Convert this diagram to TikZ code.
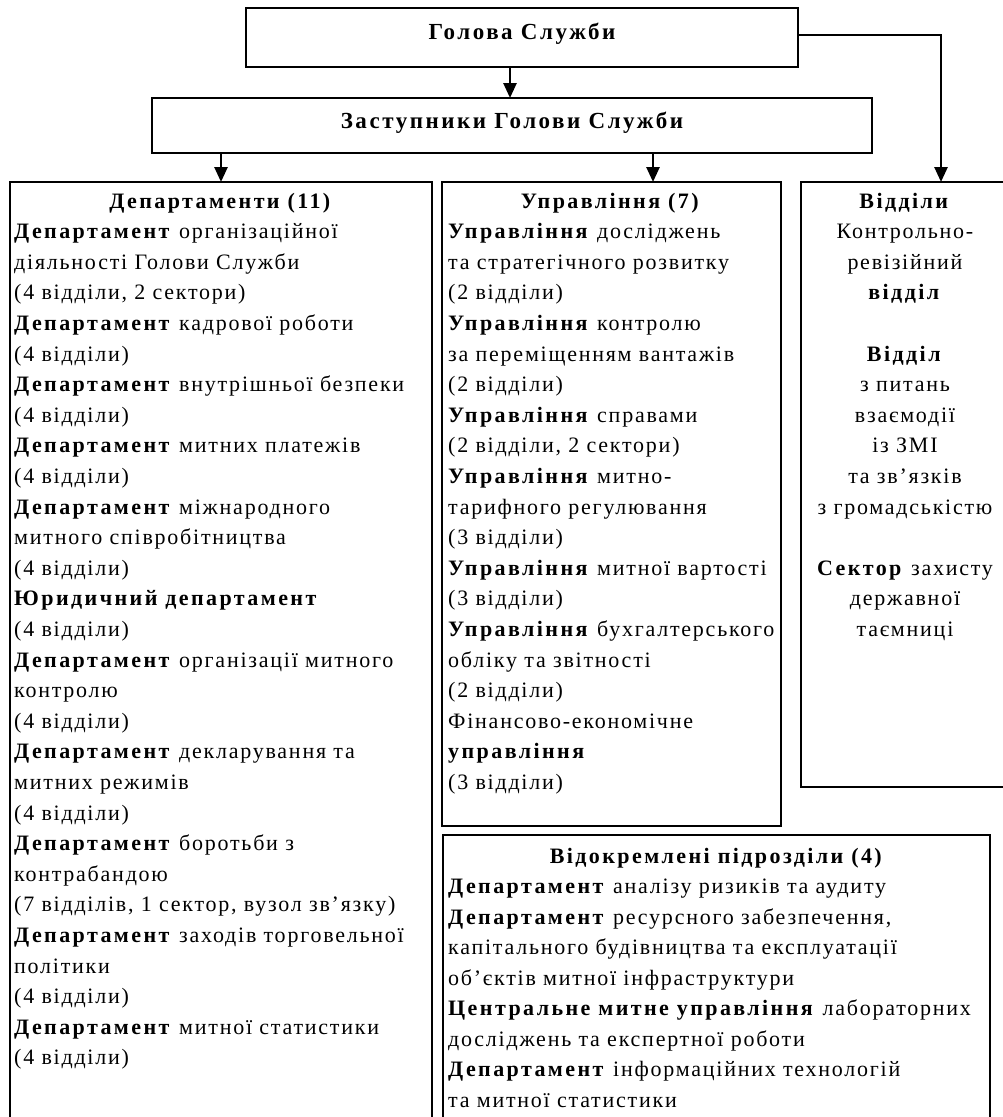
\documentclass[tikz,border=0pt]{standalone}
\usepackage{fontspec}
\setmainfont{Liberation Serif}[LetterSpace=8,BoldFeatures={LetterSpace=11}]
\usetikzlibrary{arrows.meta}
\begin{document}
\begin{tikzpicture}[x=1pt,y=-1pt,
  box/.style={draw,line width=2.6pt,rectangle,inner sep=0pt,outer sep=0pt,anchor=north west},
  ar/.style={line width=2.6pt,-{Triangle[width=13pt,length=15pt]}},
  txt/.style={anchor=base west,inner sep=0pt,font=\fontsize{22}{30.6}\selectfont},
  ctxt/.style={anchor=base,inner sep=0pt,font=\fontsize{22}{30.6}\selectfont},
  ttl/.style={anchor=base,inner sep=0pt,font=\fontsize{23}{26}\selectfont\bfseries}]
\useasboundingbox (0,0) rectangle (1003,1117);
% boxes
\node[box,minimum width=552pt,minimum height=59pt] (head) at (246,8) {};
\node[box,minimum width=720pt,minimum height=55pt] (deputy) at (152,98) {};
\node[box,minimum width=422pt,minimum height=980pt] (dept) at (10,182) {};
\node[box,minimum width=339pt,minimum height=644pt] (upr) at (442,182) {};
\node[box,minimum width=220pt,minimum height=605pt] (vid) at (801,182) {};
\node[box,minimum width=547pt,minimum height=320pt] (sep) at (443,835) {};
% titles
\node[ttl] (headt) at (522,39) {Голова Служби};
\node[ttl] (deputyt) at (512,128) {Заступники Голови Служби};
% connectors
\coordinate (xa) at (510,0);
\coordinate (xb) at (221,0);
\coordinate (xc) at (653,0);
\coordinate (xd) at (941,0);
\draw[ar] (head.south -| xa) -- (deputy.north -| xa);
\draw[ar] (deputy.south -| xb) -- (dept.north -| xb);
\draw[ar] (deputy.south -| xc) -- (upr.north -| xc);
\draw[ar] ([yshift=2.5pt]head.east) -| (vid.north -| xd);
% departments
\node[ctxt] (depth) at (221,208) {\textbf{Департаменти (11)}};
\foreach \t [count=\i from 2] in {
  {\textbf{Департамент} організаційної},
  {діяльності Голови Служби},
  {(4 відділи, 2 сектори)},
  {\textbf{Департамент} кадрової роботи},
  {(4 відділи)},
  {\textbf{Департамент} внутрішньої безпеки},
  {(4 відділи)},
  {\textbf{Департамент} митних платежів},
  {(4 відділи)},
  {\textbf{Департамент} міжнародного},
  {митного співробітництва},
  {(4 відділи)},
  {\textbf{Юридичний департамент}},
  {(4 відділи)},
  {\textbf{Департамент} організації митного},
  {контролю},
  {(4 відділи)},
  {\textbf{Департамент} декларування та},
  {митних режимів},
  {(4 відділи)},
  {\textbf{Департамент} боротьби з},
  {контрабандою},
  {(7 відділів, 1 сектор, вузол зв’язку)},
  {\textbf{Департамент} заходів торговельної},
  {політики},
  {(4 відділи)},
  {\textbf{Департамент} митної статистики},
  {(4 відділи)}}
  \node[txt] (d\i) at (14,{208+30.6*(\i-1)}) {\t};
% upravlinnia
\node[ctxt] (uprh) at (611,208) {\textbf{Управління (7)}};
\foreach \t [count=\i from 2] in {
  {\textbf{Управління} досліджень},
  {та стратегічного розвитку},
  {(2 відділи)},
  {\textbf{Управління} контролю},
  {за переміщенням вантажів},
  {(2 відділи)},
  {\textbf{Управління} справами},
  {(2 відділи, 2 сектори)},
  {\textbf{Управління} митно-},
  {тарифного регулювання},
  {(3 відділи)},
  {\textbf{Управління} митної вартості},
  {(3 відділи)},
  {\textbf{Управління} бухгалтерського},
  {обліку та звітності},
  {(2 відділи)},
  {Фінансово-економічне},
  {\textbf{управління}},
  {(3 відділи)}}
  \node[txt] (u\i) at (448,{208+30.6*(\i-1)}) {\t};
% viddily
\foreach \t/\k in {
  {\textbf{Відділи}}/1,
  {Контрольно-}/2,
  {ревізійний}/3,
  {\textbf{відділ}}/4,
  {\textbf{Відділ}}/6,
  {з питань}/7,
  {взаємодії}/8,
  {із ЗМІ}/9,
  {та зв’язків}/10,
  {з громадськістю}/11,
  {\textbf{Сектор} захисту}/13,
  {державної}/14,
  {таємниці}/15}
  \node[ctxt] (v\k) at (905,{208+30.6*(\k-1)}) {\t};
% separate units
\node[ctxt] (seph) at (717,863) {\textbf{Відокремлені підрозділи (4)}};
\foreach \t [count=\i from 2] in {
  {\textbf{Департамент} аналізу ризиків та аудиту},
  {\textbf{Департамент} ресурсного забезпечення,},
  {капітального будівництва та експлуатації},
  {об’єктів митної інфраструктури},
  {\textbf{Центральне митне управління} лабораторних},
  {досліджень та експертної роботи},
  {\textbf{Департамент} інформаційних технологій},
  {та митної статистики}}
  \node[txt] (s\i) at (448,{863+30.5*(\i-1)}) {\t};
\end{tikzpicture}
\end{document}
